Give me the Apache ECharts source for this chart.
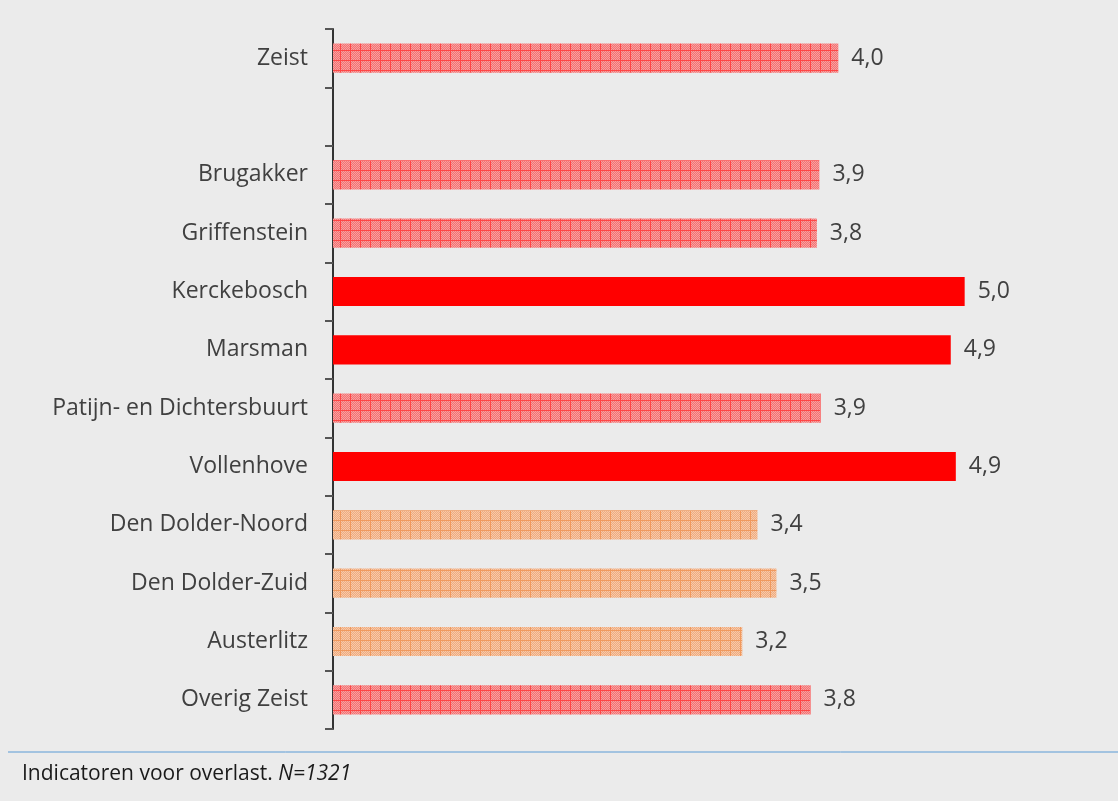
<!DOCTYPE html>
<html>
<head>
<meta charset="utf-8">
<script src="https://cdn.jsdelivr.net/npm/echarts@6/dist/echarts.min.js"></script>
<style>
  html, body { margin: 0; padding: 0; background: #ebebeb; }
  #chart { width: 1118px; height: 801px; }
</style>
</head>
<body>
<div id="chart"></div>
<script>
// wijken en scores (lege regel tussen Zeist en de wijken)
const wijken = ['Zeist', '', 'Brugakker', 'Griffenstein', 'Kerckebosch', 'Marsman',
  'Patijn- en Dichtersbuurt', 'Vollenhove', 'Den Dolder-Noord', 'Den Dolder-Zuid',
  'Austerlitz', 'Overig Zeist']
const scores = [4.0, null, 3.85, 3.83, 5.0, 4.89, 3.86, 4.93, 3.36, 3.51, 3.24, 3.78]
// stijl per balk: 'rood' = gearceerd rood, 'vol' = effen rood, 'oranje' = gearceerd oranje
const stijl = ['rood', null, 'rood', 'rood', 'vol', 'vol', 'rood', 'vol', 'oranje', 'oranje', 'oranje', 'rood']

function makePattern (light, dark, line) {
  const c = document.createElement('canvas')
  c.width = 10
  c.height = 10
  const ctx = c.getContext('2d')
  for (let x = 0; x < 10; x++) {
    for (let y = 0; y < 10; y++) {
      ctx.fillStyle = (x + y) % 2 === 0 ? light : dark
      ctx.fillRect(x, y, 1, 1)
    }
  }
  ctx.fillStyle = line
  ctx.fillRect(0, 0, 10, 1)
  ctx.fillRect(0, 0, 1, 10)
  return { image: c, repeat: 'repeat' }
}

const kleuren = {
  rood: makePattern('#f8a0a0', '#f37272', '#ff4545'),
  oranje: makePattern('#f6c9aa', '#f0ab7e', '#f0995e'),
  vol: '#ff0000'
}

const chart = echarts.init(document.getElementById('chart'))
chart.setOption({
  backgroundColor: '#ebebeb',
  animation: false,
  textStyle: { fontFamily: 'Open Sans' },
  grid: { left: 333, right: 27, top: 29, bottom: 72 },
  xAxis: {
    type: 'value',
    min: 0,
    max: 6,
    show: false
  },
  yAxis: {
    type: 'category',
    inverse: true,
    data: wijken,
    axisLine: { show: true, lineStyle: { color: '#333', width: 2 } },
    axisTick: { show: true, length: 8, lineStyle: { color: '#555', width: 2 } },
    axisLabel: { color: '#404040', fontSize: 23, margin: 25 },
    splitLine: { show: false }
  },
  series: [{
    type: 'bar',
    barWidth: '50%',
    data: scores.map((v, i) => v === null ? '-' : {
      value: v,
      itemStyle: { color: kleuren[stijl[i]] }
    }),
    label: {
      show: true,
      position: 'right',
      distance: 13,
      color: '#404040',
      fontSize: 23,
      formatter: p => (Math.round(p.value * 10) / 10).toFixed(1).replace('.', ',')
    }
  }],
  graphic: [
    {
      type: 'line',
      shape: { x1: 8, y1: 752, x2: 1118, y2: 752 },
      style: { stroke: '#5b9bd5', lineWidth: 1 }
    },
    {
      type: 'text',
      left: 22,
      top: 764,
      style: {
        text: 'Indicatoren voor overlast. {i|N=1321}',
        fontFamily: 'Open Sans',
        fontSize: 21,
        fill: '#1a1a1a',
        rich: { i: { fontStyle: 'italic', fontSize: 21, fontFamily: 'Open Sans', color: '#1a1a1a' } }
      }
    }
  ]
})
</script>
</body>
</html>
